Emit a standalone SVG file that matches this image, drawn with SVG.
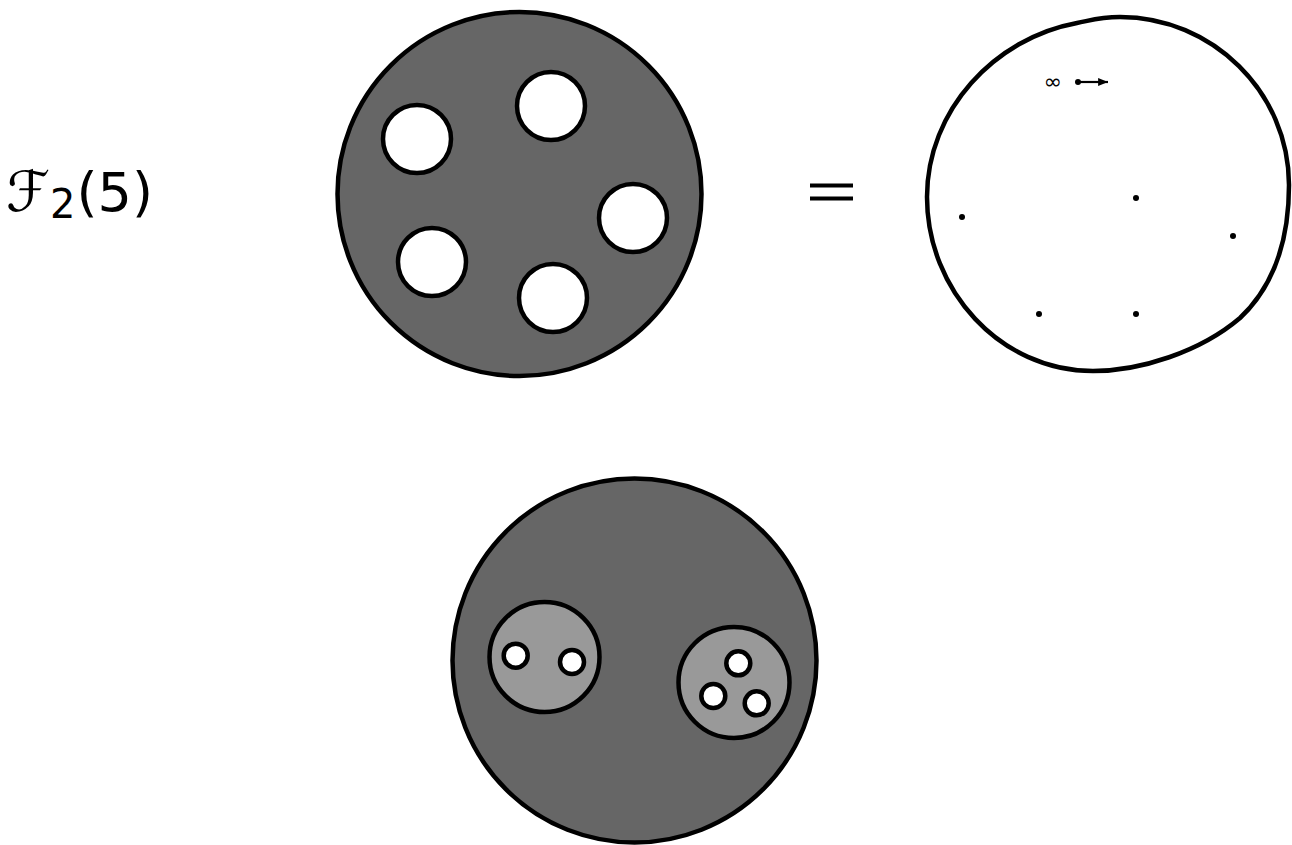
<svg xmlns="http://www.w3.org/2000/svg" width="1292" height="845" viewBox="0 0 1292 845">
<style>
.ln{stroke:#000;stroke-width:4.5;}
.dark{fill:#666666;}
.light{fill:#999999;}
.hole{fill:#fff;}
.dot{fill:#000;}
.lbl{font-family:"DejaVu Sans","Liberation Sans",sans-serif;fill:#000;}
</style>
<defs>
<marker id="ah" viewBox="0 0 10 10" refX="10" refY="5" markerWidth="4.5" markerHeight="4.5" orient="auto" markerUnits="strokeWidth">
<path d="M0,1 L10,5 L0,9 Z" fill="#000"/>
</marker>
</defs>
<g id="label">
<text class="lbl" x="6" y="211" font-size="56"><tspan>ℱ</tspan><tspan font-size="40" dy="7">2</tspan><tspan font-size="54" dx="1" dy="-7">(5)</tspan></text>
</g>
<g id="disk5">
<circle class="ln dark" cx="519.5" cy="194" r="182"/>
<circle class="ln hole" cx="417" cy="139" r="34"/>
<circle class="ln hole" cx="551" cy="106" r="34"/>
<circle class="ln hole" cx="633" cy="218" r="34"/>
<circle class="ln hole" cx="432" cy="262" r="34"/>
<circle class="ln hole" cx="553" cy="298" r="34"/>
</g>
<g id="equals">
<line x1="810" y1="185.5" x2="853" y2="185.5" stroke="#000" stroke-width="4"/>
<line x1="810" y1="198.5" x2="853" y2="198.5" stroke="#000" stroke-width="4"/>
</g>
<g id="sphere">
<path class="ln" fill="#fff" d="M927,197 C927,110 995,38 1077,23 C1092,20 1100,17 1120,17 C1212,17 1289,92 1289,185 C1289,240 1275,285 1240,318 C1200,352 1140,371 1093,371 C1000,371 927,290 927,197 Z"/>
<circle class="dot" cx="962" cy="217" r="3"/>
<circle class="dot" cx="1136" cy="198" r="3"/>
<circle class="dot" cx="1233" cy="236" r="3"/>
<circle class="dot" cx="1039" cy="314" r="3"/>
<circle class="dot" cx="1136" cy="314" r="3"/>
<text class="lbl" x="1053" y="89" font-size="22" text-anchor="middle" fill="#444">∞</text>
<circle class="dot" cx="1078" cy="82" r="3"/>
</g>
<g id="connectors">
<line x1="1078" y1="82" x2="1108" y2="82" stroke="#000" stroke-width="2.2" marker-end="url(#ah)"/>
</g>
<g id="nested">
<circle class="ln dark" cx="634.5" cy="660.5" r="182"/>
<circle class="ln light" cx="544.5" cy="657" r="55"/>
<circle class="ln hole" cx="515.7" cy="655.7" r="12"/>
<circle class="ln hole" cx="572" cy="662" r="12"/>
<circle class="ln light" cx="734" cy="682.5" r="55.5"/>
<circle class="ln hole" cx="738.3" cy="663.3" r="12"/>
<circle class="ln hole" cx="713.3" cy="696" r="12"/>
<circle class="ln hole" cx="756.7" cy="703.3" r="12"/>
</g>
</svg>
